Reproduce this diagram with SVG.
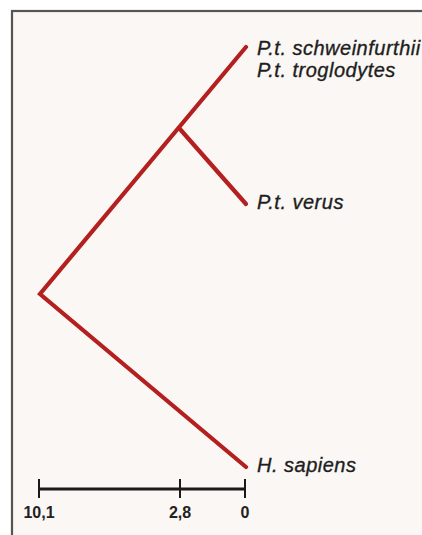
<svg xmlns="http://www.w3.org/2000/svg" width="422" height="535" viewBox="0 0 422 535">
<style>
.branch{fill:none;stroke:#b3201f;stroke-width:4.2;stroke-linecap:round;stroke-linejoin:miter}
.scale{fill:none;stroke:#1a1a1a;stroke-width:3}
.tick{fill:none;stroke:#1a1a1a;stroke-width:2}
.lbl{font-family:"Liberation Sans",Arial,sans-serif;font-style:italic;font-size:20px;letter-spacing:0.5px;fill:#1e1e1e;stroke:#1e1e1e;stroke-width:0.35}
.num{font-family:"Liberation Sans",Arial,sans-serif;font-weight:bold;font-size:16px;fill:#222}
</style>
<rect x="0" y="0" width="422" height="535" fill="#ffffff"/>
<rect x="12" y="11" width="420" height="540" fill="#fbf7f4" stroke="#555555" stroke-width="2.2"/>
<g id="connectors">
<polyline class="branch" points="246,47 40,294 246,467"/>
<polyline class="branch" points="179,128 246,204"/>
</g>
<g id="node-schweinfurthii"><text class="lbl" x="257" y="55">P.t. schweinfurthii</text></g>
<g id="node-troglodytes"><text class="lbl" x="257" y="77">P.t. troglodytes</text></g>
<g id="node-verus"><text class="lbl" x="257" y="209">P.t. verus</text></g>
<g id="node-sapiens"><text class="lbl" x="257" y="472">H. sapiens</text></g>
<g id="scale">
<line class="scale" x1="39" y1="489" x2="245" y2="489"/>
<line class="tick" x1="39" y1="479" x2="39" y2="498"/>
<line class="tick" x1="180" y1="479" x2="180" y2="498"/>
<line class="tick" x1="245" y1="479" x2="245" y2="498"/>
<text class="num" x="39" y="518" text-anchor="middle">10,1</text>
<text class="num" x="180" y="518" text-anchor="middle">2,8</text>
<text class="num" x="245" y="518" text-anchor="middle">0</text>
</g>
</svg>
